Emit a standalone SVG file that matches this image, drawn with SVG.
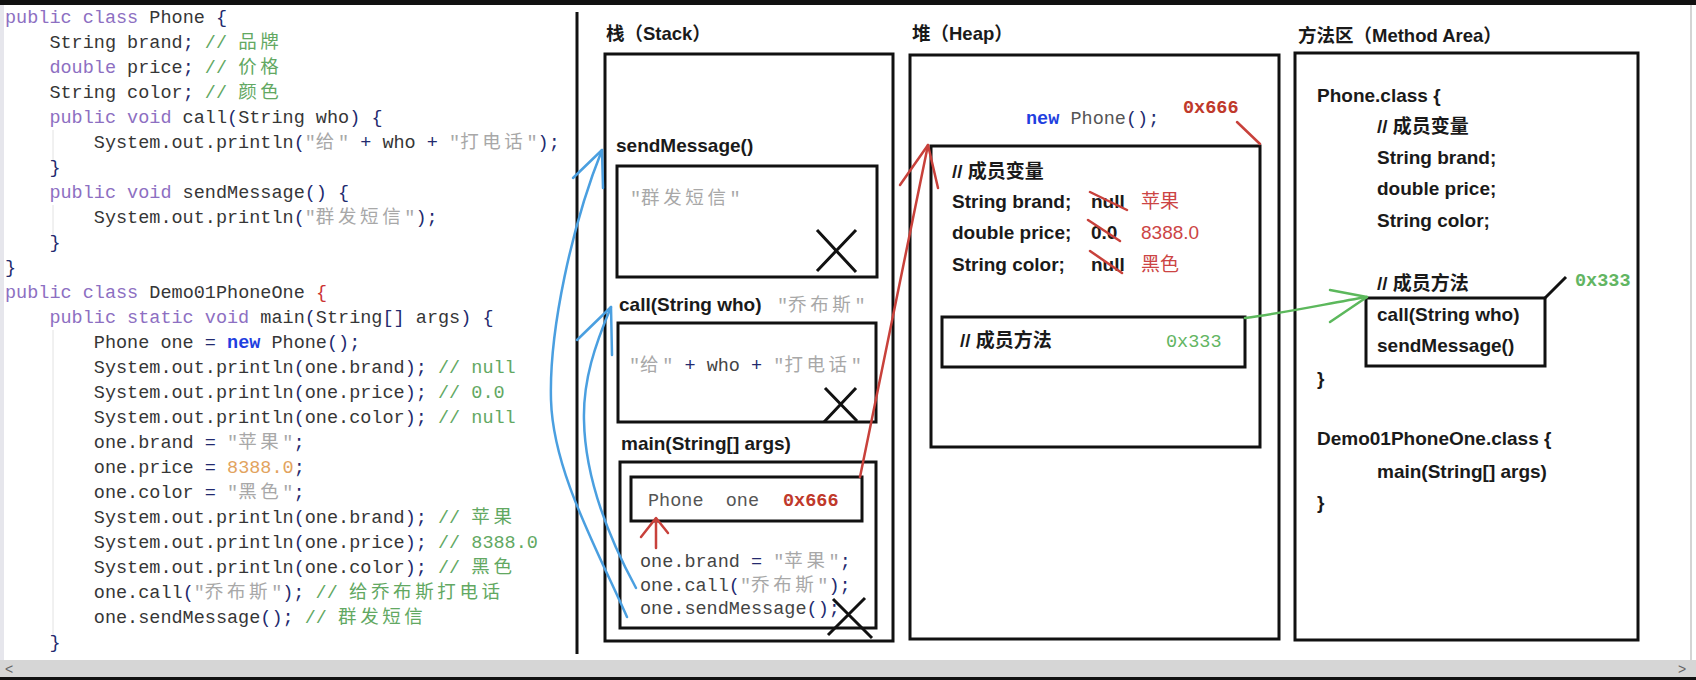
<svg xmlns="http://www.w3.org/2000/svg" width="1696" height="680" viewBox="0 0 1696 680">
<defs>
<style>
.code{font-family:"Liberation Mono","Noto Sans CJK SC",monospace;font-size:18.5px;fill:#363636}
.mono{font-family:"Liberation Mono","Noto Sans CJK SC",monospace;font-size:18.5px;fill:#444}
.cj{letter-spacing:3.6px}
.kw{fill:#8d6fc2}
.pn{fill:#232a6e}
.cm{fill:#62a862}
.st{fill:#a8a8a8}
.nu{fill:#e2a35e}
.nw{fill:#1f3fe0;font-weight:bold}
.rb{fill:#cc3333}
.lbl{font-family:"Liberation Sans","Noto Sans CJK SC",sans-serif;font-size:19px;font-weight:bold;fill:#1a1a1a}
.ttl{font-family:"Liberation Sans","Noto Sans CJK SC",sans-serif;font-size:18.5px;font-weight:bold;fill:#1a1a1a}
.red{font-family:"Liberation Sans","Noto Sans CJK SC",sans-serif;font-size:19px;fill:#cc4444}
.addr-r{font-family:"Liberation Mono",monospace;font-size:18.5px;font-weight:bold;fill:#c0392b}
.addr-g{font-family:"Liberation Mono",monospace;font-size:18.5px;font-weight:bold;fill:#62b562}
.box{fill:none;stroke:#111;stroke-width:3}
.xm{stroke:#111;stroke-width:3;fill:none}
.blue{stroke:#4a9fe0;stroke-width:2.5;fill:none;stroke-linecap:round;stroke-linejoin:round}
.redl{stroke:#c8413b;stroke-width:2.5;fill:none;stroke-linecap:round;stroke-linejoin:round}
.green{stroke:#5cb85c;stroke-width:2.5;fill:none;stroke-linecap:round;stroke-linejoin:round}
</style>
</defs>
<rect x="0" y="0" width="1696" height="680" fill="#ffffff"/>
<rect x="0" y="0" width="1696" height="5" fill="#111"/>
<rect x="0" y="5" width="4" height="655" fill="#e6e6ec"/>
<line x1="1691" y1="5" x2="1691" y2="660" stroke="#d4d4d4" stroke-width="2"/>
<rect x="0" y="660" width="1696" height="17" fill="#d6d6d6"/>
<rect x="0" y="677" width="1696" height="3" fill="#111"/>
<text x="5" y="674" font-family="Liberation Sans,sans-serif" font-size="14" fill="#666">&lt;</text>
<text x="1678" y="674" font-family="Liberation Sans,sans-serif" font-size="14" fill="#666">&gt;</text>

<g id="code">
<line x1="53" y1="130" x2="53" y2="160" stroke="#e2e2e2" stroke-width="1"/>
<line x1="53" y1="205" x2="53" y2="235" stroke="#e2e2e2" stroke-width="1"/>
<line x1="53" y1="330" x2="53" y2="635" stroke="#e2e2e2" stroke-width="1"/>
<text class="code" xml:space="preserve" x="5" y="23"><tspan class="kw">public class</tspan> Phone <tspan class="pn">{</tspan></text>
<text class="code" xml:space="preserve" x="49.4" y="48">String brand<tspan class="pn">;</tspan> <tspan class="cm">// <tspan class="cj">品牌</tspan></tspan></text>
<text class="code" xml:space="preserve" x="49.4" y="73"><tspan class="kw">double</tspan> price<tspan class="pn">;</tspan> <tspan class="cm">// <tspan class="cj">价格</tspan></tspan></text>
<text class="code" xml:space="preserve" x="49.4" y="98">String color<tspan class="pn">;</tspan> <tspan class="cm">// <tspan class="cj">颜色</tspan></tspan></text>
<text class="code" xml:space="preserve" x="49.4" y="123"><tspan class="kw">public void</tspan> call<tspan class="pn">(</tspan>String who<tspan class="pn">)</tspan> <tspan class="pn">{</tspan></text>
<text class="code" xml:space="preserve" x="93.8" y="148">System.out.println<tspan class="pn">(</tspan><tspan class="st">"<tspan class="cj">给</tspan>"</tspan> <tspan class="pn">+</tspan> who <tspan class="pn">+</tspan> <tspan class="st">"<tspan class="cj">打电话</tspan>"</tspan><tspan class="pn">);</tspan></text>
<text class="code" xml:space="preserve" x="49.4" y="173"><tspan class="pn">}</tspan></text>
<text class="code" xml:space="preserve" x="49.4" y="198"><tspan class="kw">public void</tspan> sendMessage<tspan class="pn">()</tspan> <tspan class="pn">{</tspan></text>
<text class="code" xml:space="preserve" x="93.8" y="223">System.out.println<tspan class="pn">(</tspan><tspan class="st">"<tspan class="cj">群发短信</tspan>"</tspan><tspan class="pn">);</tspan></text>
<text class="code" xml:space="preserve" x="49.4" y="248"><tspan class="pn">}</tspan></text>
<text class="code" xml:space="preserve" x="5" y="273"><tspan class="pn">}</tspan></text>
<text class="code" xml:space="preserve" x="5" y="298"><tspan class="kw">public class</tspan> Demo01PhoneOne <tspan class="rb">{</tspan></text>
<text class="code" xml:space="preserve" x="49.4" y="323"><tspan class="kw">public static void</tspan> main<tspan class="pn">(</tspan>String<tspan class="pn">[]</tspan> args<tspan class="pn">)</tspan> <tspan class="pn">{</tspan></text>
<text class="code" xml:space="preserve" x="93.8" y="348">Phone one <tspan class="pn">=</tspan> <tspan class="nw">new</tspan> Phone<tspan class="pn">();</tspan></text>
<text class="code" xml:space="preserve" x="93.8" y="373">System.out.println<tspan class="pn">(</tspan>one.brand<tspan class="pn">);</tspan> <tspan class="cm">// null</tspan></text>
<text class="code" xml:space="preserve" x="93.8" y="398">System.out.println<tspan class="pn">(</tspan>one.price<tspan class="pn">);</tspan> <tspan class="cm">// 0.0</tspan></text>
<text class="code" xml:space="preserve" x="93.8" y="423">System.out.println<tspan class="pn">(</tspan>one.color<tspan class="pn">);</tspan> <tspan class="cm">// null</tspan></text>
<text class="code" xml:space="preserve" x="93.8" y="448">one.brand <tspan class="pn">=</tspan> <tspan class="st">"<tspan class="cj">苹果</tspan>"</tspan><tspan class="pn">;</tspan></text>
<text class="code" xml:space="preserve" x="93.8" y="473">one.price <tspan class="pn">=</tspan> <tspan class="nu">8388.0</tspan><tspan class="pn">;</tspan></text>
<text class="code" xml:space="preserve" x="93.8" y="498">one.color <tspan class="pn">=</tspan> <tspan class="st">"<tspan class="cj">黑色</tspan>"</tspan><tspan class="pn">;</tspan></text>
<text class="code" xml:space="preserve" x="93.8" y="523">System.out.println<tspan class="pn">(</tspan>one.brand<tspan class="pn">);</tspan> <tspan class="cm">// <tspan class="cj">苹果</tspan></tspan></text>
<text class="code" xml:space="preserve" x="93.8" y="548">System.out.println<tspan class="pn">(</tspan>one.price<tspan class="pn">);</tspan> <tspan class="cm">// 8388.0</tspan></text>
<text class="code" xml:space="preserve" x="93.8" y="573">System.out.println<tspan class="pn">(</tspan>one.color<tspan class="pn">);</tspan> <tspan class="cm">// <tspan class="cj">黑色</tspan></tspan></text>
<text class="code" xml:space="preserve" x="93.8" y="598">one.call<tspan class="pn">(</tspan><tspan class="st">"<tspan class="cj">乔布斯</tspan>"</tspan><tspan class="pn">);</tspan> <tspan class="cm">// <tspan class="cj">给乔布斯打电话</tspan></tspan></text>
<text class="code" xml:space="preserve" x="93.8" y="623">one.sendMessage<tspan class="pn">();</tspan> <tspan class="cm">// <tspan class="cj">群发短信</tspan></tspan></text>
<text class="code" xml:space="preserve" x="49.4" y="648"><tspan class="pn">}</tspan></text>
</g>
<line x1="577" y1="12" x2="577" y2="654" stroke="#111" stroke-width="3"/>

<g id="stack">
<text class="ttl" x="606" y="40">栈（Stack）</text>
<rect class="box" x="605" y="54" width="288" height="587"/>
</g>
<g id="frame-sendMessage">
<text class="lbl" x="616" y="152">sendMessage()</text>
<rect class="box" x="617" y="166" width="260" height="111"/>
<text class="mono st" x="630" y="204">"<tspan class="cj">群发短信</tspan>"</text>
<path class="xm" d="M817,230 L856,272 M856,230 L817,271"/>
</g>
<g id="frame-call">
<text class="lbl" x="619" y="311">call(String who)</text>
<text class="mono st" x="777" y="311">"<tspan class="cj">乔布斯</tspan>"</text>
<rect class="box" x="618" y="323" width="258" height="99"/>
<text class="mono" xml:space="preserve" x="629" y="371"><tspan class="st">"<tspan class="cj">给</tspan>"</tspan> <tspan class="pn">+</tspan> who <tspan class="pn">+</tspan> <tspan class="st">"<tspan class="cj">打电话</tspan>"</tspan></text>
<path class="xm" d="M825,388 L857,421 M856,388 L824,422"/>
</g>
<g id="frame-main">
<text class="lbl" x="621" y="450">main(String[] args)</text>
<rect class="box" x="620" y="462" width="256" height="166"/>
<rect class="box" x="631" y="477" width="231" height="44"/>
<text class="mono" xml:space="preserve" x="648" y="506" style="fill:#555">Phone  one</text>
<text class="addr-r" x="783" y="506">0x666</text>
<text class="mono" xml:space="preserve" x="640" y="567">one.brand <tspan class="pn">=</tspan> <tspan class="st">"<tspan class="cj">苹果</tspan>"</tspan><tspan class="pn">;</tspan></text>
<text class="mono" xml:space="preserve" x="640" y="591">one.call<tspan class="pn">(</tspan><tspan class="st">"<tspan class="cj">乔布斯</tspan>"</tspan><tspan class="pn">);</tspan></text>
<text class="mono" xml:space="preserve" x="640" y="614">one.sendMessage<tspan class="pn">();</tspan></text>
<path class="xm" d="M833,599 L872,638 M865,598 L828,635"/>
</g>

<g id="heap">
<text class="ttl" x="912" y="40">堆（Heap）</text>
<rect class="box" x="910" y="55" width="369" height="584"/>
<text class="mono" xml:space="preserve" x="1026" y="124"><tspan class="nw">new</tspan> <tspan style="fill:#555">Phone</tspan><tspan class="pn">();</tspan></text>
<text class="addr-r" x="1183" y="113">0x666</text>
</g>
<g id="heap-object">
<rect class="box" x="931" y="146" width="329" height="301"/>
<text class="lbl" x="952" y="178">// 成员变量</text>
<text class="lbl" x="952" y="208">String brand;</text>
<text class="lbl" x="1091" y="208">null</text>
<text class="red" x="1141" y="208">苹果</text>
<text class="lbl" x="952" y="239">double price;</text>
<text class="lbl" x="1091" y="239">0.0</text>
<text class="red" x="1141" y="239">8388.0</text>
<text class="lbl" x="952" y="271">String color;</text>
<text class="lbl" x="1091" y="271">null</text>
<text class="red" x="1141" y="271">黑色</text>
<path class="redl" d="M1090,192 L1127,210 M1088,220 L1120,241 M1090,251 L1122,273"/>
<rect class="box" x="942" y="317" width="303" height="50"/>
<text class="lbl" x="960" y="347">// 成员方法</text>
<text class="addr-g" x="1166" y="347" style="font-weight:normal">0x333</text>
</g>

<g id="method-area">
<text class="ttl" x="1298" y="42">方法区（Method Area）</text>
<rect class="box" x="1295" y="53" width="343" height="587"/>
<text class="lbl" x="1317" y="102">Phone.class {</text>
<text class="lbl" x="1377" y="133">// 成员变量</text>
<text class="lbl" x="1377" y="164">String brand;</text>
<text class="lbl" x="1377" y="195">double price;</text>
<text class="lbl" x="1377" y="227">String color;</text>
<text class="lbl" x="1377" y="290">// 成员方法</text>
<rect class="box" x="1366" y="298" width="179" height="68"/>
<text class="lbl" x="1377" y="321">call(String who)</text>
<text class="lbl" x="1377" y="352">sendMessage()</text>
<text class="addr-g" x="1575" y="286">0x333</text>
<text class="lbl" x="1317" y="385">}</text>
<text class="lbl" x="1317" y="445">Demo01PhoneOne.class {</text>
<text class="lbl" x="1377" y="478">main(String[] args)</text>
<text class="lbl" x="1317" y="509">}</text>
</g>

<g id="connectors">
<path class="blue" d="M627,617 C595,545 553,470 551,400 C549,330 572,225 602,150"/>
<path class="blue" d="M573,178 L602,150 L603,188"/>
<path class="blue" d="M636,588 C610,540 585,480 584,420 C583,380 595,345 611,307"/>
<path class="blue" d="M577,340 L611,307 L612,355"/>
<path class="redl" d="M860,477 L928,145"/>
<path class="redl" d="M900,185 L928,145 L938,188"/>
<path class="redl" d="M656,548 L656,519 M641,537 L656,518 L668,533"/>
<path class="redl" stroke-width="3" d="M1237,122 L1260,144"/>
<path class="green" d="M1245,318 C1290,312 1330,303 1367,297"/>
<path class="green" d="M1330,290 L1367,297 L1330,322"/>
<path class="xm" d="M1545,298 L1566,277"/>
</g>
</svg>
